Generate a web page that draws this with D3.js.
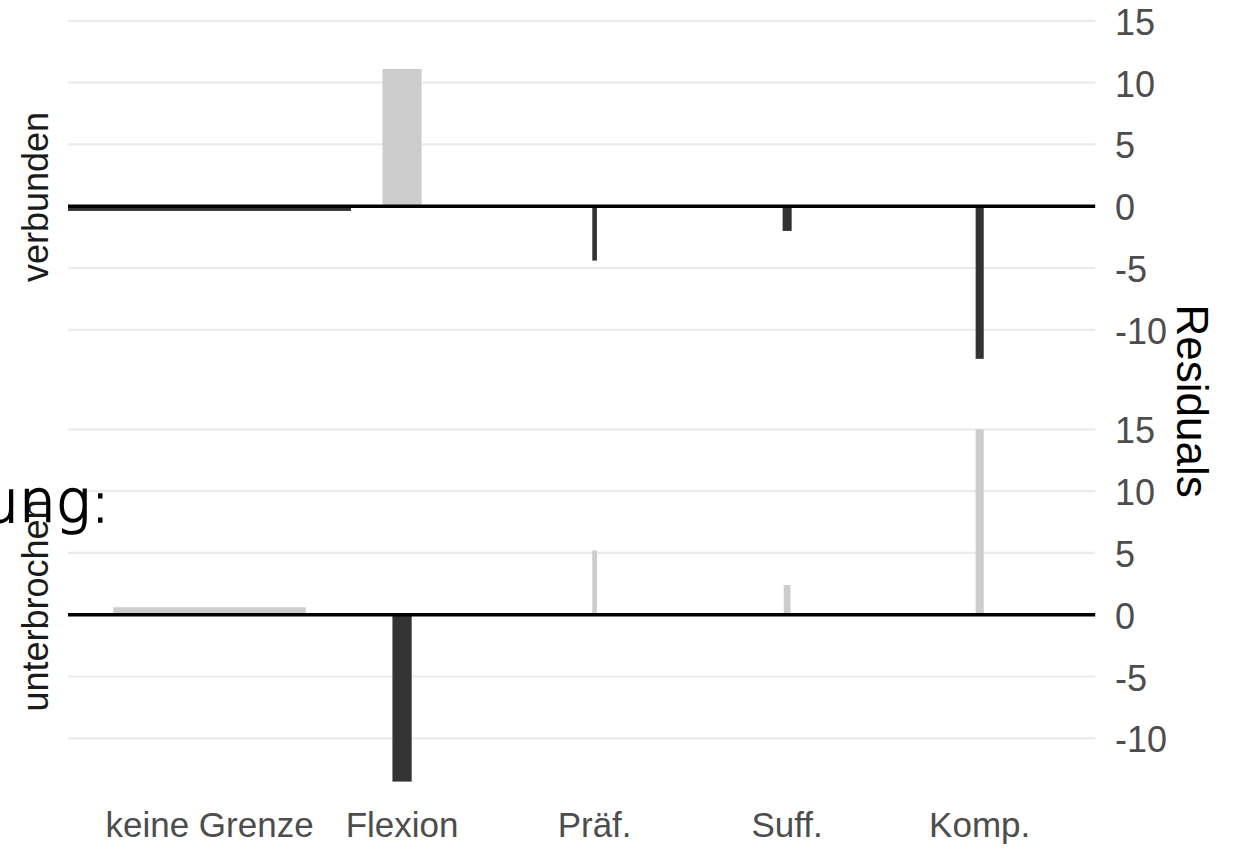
<!DOCTYPE html>
<html>
<head>
<meta charset="utf-8">
<script src="https://cdn.jsdelivr.net/npm/d3@7"></script>
<style>
  body { margin: 0; background: #fff; }
  svg { display: block; }
</style>
</head>
<body>
<div id="chart"></div>
<script>
// categories along x, one panel per row
var categories = ["keine Grenze", "Flexion", "Präf.", "Suff.", "Komp."];
var rows = ["verbunden", "unterbrochen"];

// residual per category, per row
var residVerbunden = [-0.38, 11.1, -4.4, -2.0, -12.35];
var residUnterbrochen = [0.6, -13.5, 5.2, 2.4, 15.0];

// bar width (in category units) per category, per row
var widthVerbunden = [1.47, 0.203, 0.024, 0.047, 0.042];
var widthUnterbrochen = [1.0, 0.10, 0.024, 0.035, 0.042];

var yTicks = [-10, -5, 0, 5, 10, 15];

var W = 1235, H = 854;
var panelTop = 3.2, panelH = 387.5, panelGap = 21;
var left = 68, right = 1095.2;

var bars = [];
categories.forEach(function(c, i) {
  bars.push({row: 0, cat: c, idx: i + 1, value: residVerbunden[i], w: widthVerbunden[i]});
  bars.push({row: 1, cat: c, idx: i + 1, value: residUnterbrochen[i], w: widthUnterbrochen[i]});
});

// x range: discrete expansion of 0.6 or bar extent, whichever is wider
var xmin = d3.min(bars, function(d) { return Math.min(d.idx - d.w / 2, d.idx - 0.6); });
var xmax = d3.max(bars, function(d) { return Math.max(d.idx + d.w / 2, d.idx + 0.6); });
var x = d3.scaleLinear().domain([xmin, xmax]).range([left, right]);

var ext = d3.extent(bars, function(d) { return d.value; });
var pad = (ext[1] - ext[0]) * 0.05;

var svg = d3.select("#chart").append("svg")
  .attr("width", W).attr("height", H);

rows.forEach(function(r, ri) {
  var top = panelTop + ri * (panelH + panelGap);
  var y = d3.scaleLinear().domain([ext[0] - pad, ext[1] + pad]).range([top + panelH, top]);
  var g = svg.append("g");

  g.selectAll("line.grid").data(yTicks).enter().append("line")
    .attr("x1", left).attr("x2", right)
    .attr("y1", function(d) { return y(d); })
    .attr("y2", function(d) { return y(d); })
    .attr("stroke", "#ebebeb").attr("stroke-width", 2.2);

  g.selectAll("rect").data(bars.filter(function(d) { return d.row === ri; })).enter().append("rect")
    .attr("x", function(d) { return x(d.idx - d.w / 2); })
    .attr("width", function(d) { return x(d.idx + d.w / 2) - x(d.idx - d.w / 2); })
    .attr("y", function(d) { return y(Math.max(0, d.value)); })
    .attr("height", function(d) { return Math.abs(y(d.value) - y(0)); })
    .attr("fill", function(d) { return d.value > 0 ? "#cccccc" : "#333333"; });

  g.append("line")
    .attr("x1", left).attr("x2", right)
    .attr("y1", y(0)).attr("y2", y(0))
    .attr("stroke", "#000").attr("stroke-width", 3.5);

  // tick labels on the right
  g.selectAll("text.tick").data(yTicks).enter().append("text")
    .attr("x", 1115).attr("y", function(d) { return y(d) + 1.5; })
    .attr("dominant-baseline", "central")
    .attr("font-family", "Liberation Sans, Arial, sans-serif")
    .attr("font-size", 36).attr("fill", "#4d4d4d")
    .text(function(d) { return d; });

  // strip label on the left
  g.append("text")
    .attr("transform", "translate(48," + (top + panelH / 2) + ") rotate(-90)")
    .attr("text-anchor", "middle")
    .attr("font-family", "Liberation Sans, Arial, sans-serif")
    .attr("font-size", 36).attr("fill", "#1a1a1a")
    .text(r);
});

svg.selectAll("text.xlab").data(categories).enter().append("text")
  .attr("x", function(d, i) { return x(i + 1); })
  .attr("y", 837)
  .attr("text-anchor", "middle")
  .attr("font-family", "Liberation Sans, Arial, sans-serif")
  .attr("font-size", 35).attr("fill", "#4d4d4d")
  .text(function(d) { return d; });

svg.append("text")
  .attr("transform", "translate(1177," + (panelTop + panelH + panelGap / 2) + ") rotate(90)")
  .attr("text-anchor", "middle")
  .attr("font-family", "Liberation Sans, Arial, sans-serif")
  .attr("font-size", 44).attr("fill", "#000")
  .text("Residuals");

// leftover slide title fragment overlapping the plot
svg.append("text")
  .attr("x", 110).attr("y", 522)
  .attr("text-anchor", "end")
  .attr("font-family", "DejaVu Sans, sans-serif")
  .attr("font-weight", 200)
  .attr("font-size", 58).attr("fill", "#000")
  .attr("stroke", "#000").attr("stroke-width", 1.6)
  .text("ung:");
</script>
</body>
</html>
